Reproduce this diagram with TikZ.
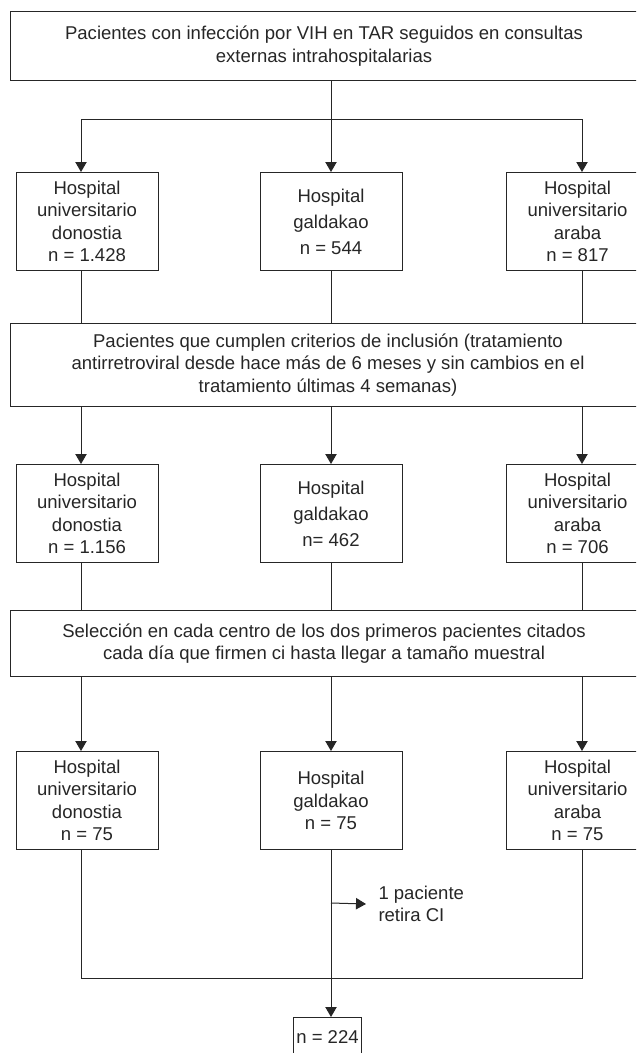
\documentclass[tikz,border=0pt]{standalone}
\usepackage{fontspec}
\setmainfont{Liberation Sans}
\usetikzlibrary{arrows.meta}

\begin{document}
\begin{tikzpicture}[x=0.75pt,y=0.75pt,yscale=-1,xscale=1,
  color=black!85, line width=0.75pt,
  font=\fontsize{13.9}{16.9}\selectfont,
  bigbox/.style={draw, anchor=north west, minimum width=470.25pt, align=center, inner sep=0pt},
  hbox/.style={draw, anchor=north west, minimum width=106.5pt, minimum height=73.5pt, align=center, inner sep=0pt},
  arr/.style={-{Triangle[width=8.5pt,length=7.5pt]}}]
\useasboundingbox (0,0) rectangle (636,1053);
\clip (0,0) rectangle (636,1053);

% Boxes
\node[bigbox, minimum height=51.75pt] (pac) at (10,11) {Pacientes con infección por VIH en TAR seguidos en consultas\\externas intrahospitalarias};
\node[hbox] (don1) at (15.5,172) {Hospital\\universitario\\donostia\\n = 1.428};
\node[hbox] (gal1) at (259.5,172) {Hospital\\[2.6pt]galdakao\\[2.6pt]n = 544};
\node[hbox] (ara1) at (506,172) {Hospital\\universitario\\araba\\n = 817};
\node[bigbox, minimum width=476.25pt, minimum height=62.25pt] (inc) at (10,323) {Pacientes que cumplen criterios de inclusión (tratamiento\\antirretroviral desde hace más de 6 meses y sin cambios en el\\tratamiento últimas 4 semanas)};
\node[hbox] (don2) at (15.5,464) {Hospital\\universitario\\donostia\\n = 1.156};
\node[hbox] (gal2) at (259.5,464) {Hospital\\[2.6pt]galdakao\\[2.6pt]n= 462};
\node[hbox] (ara2) at (506,464) {Hospital\\universitario\\araba\\n = 706};
\node[bigbox, minimum height=49.5pt] (sel) at (10,610) {Selección en cada centro de los dos primeros pacientes citados\\cada día que firmen ci hasta llegar a tamaño muestral};
\node[hbox] (don3) at (15.5,751) {Hospital\\universitario\\donostia\\n = 75};
\node[hbox] (gal3) at (259.5,751) {Hospital\\galdakao\\n = 75};
\node[hbox] (ara3) at (506,751) {Hospital\\universitario\\araba\\n = 75};
\node[draw, anchor=north west, minimum width=51pt, minimum height=30pt, inner sep=2pt] (tot) at (293,1017) {n = 224};
\node[anchor=west, align=left, inner xsep=9pt, inner ysep=0pt] (ret) at (366,904) {1 paciente\\retira CI};

% Columns
\coordinate (cl) at (81,0);
\coordinate (cm) at (331,0);
\coordinate (cr) at (582,0);

% Top split
\coordinate (sp1) at (331,119);
\draw (cm |- pac.south) -- (sp1);
\draw (cl |- sp1) -- (cr |- sp1);
\foreach \c/\n in {cl/don,cm/gal,cr/ara} {
  \draw[arr] (\c |- sp1) -- (\c |- \n1.north);
  \draw (\c |- \n1.south) -- (\c |- inc.north);
  \draw[arr] (\c |- inc.south) -- (\c |- \n2.north);
  \draw (\c |- \n2.south) -- (\c |- sel.north);
  \draw[arr] (\c |- sel.south) -- (\c |- \n3.north);
}

% Bottom join
\coordinate (sp3) at (331,978);
\coordinate (jr) at (331,903);
\draw (cl |- don3.south) -- (cl |- sp3) -- (cr |- sp3) -- (cr |- ara3.south);
\draw[arr] (gal3.south) -- (gal3.south |- tot.north);
\draw[arr] (jr) -- (ret.west);
\end{tikzpicture}
\end{document}
